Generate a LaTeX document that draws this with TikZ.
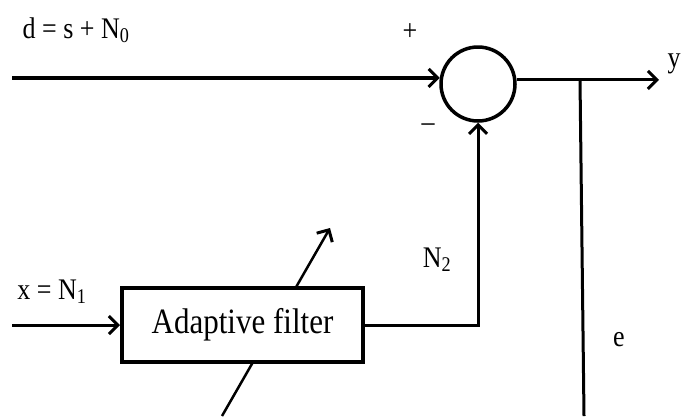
\documentclass[tikz,border=0pt]{standalone}
\usepackage{fontspec}
\setmainfont{Liberation Serif}
\usetikzlibrary{arrows.meta, positioning}

\newcommand{\tall}[1]{\scalebox{1}[1.15]{#1}}

\begin{document}
\begin{tikzpicture}[
x=1pt, y=-1pt,
lbl/.style={inner sep=0pt, font=\fontsize{26}{28}\selectfont},
sumnode/.style={circle, draw, line width=3.5pt, minimum size=74pt, inner sep=0pt},
filterbox/.style={draw, rectangle, fill=white, line width=4pt, minimum width=241pt, minimum height=74pt, font=\fontsize{31}{33}\selectfont},
arrow/.style={-{Straight Barb[length=9pt, width=18pt, line width=3pt]}, line width=3pt},
wire/.style={line width=3pt}
]
\useasboundingbox (0,0) rectangle (684,416);

\node[sumnode] (sum) at (478,84) {};

% adaptation arrow behind the filter box
\coordinate (adaptbot) at (222,416);
\coordinate (adapttop) at (330,228);
\draw[arrow, line width=2.5pt] (adaptbot) -- (adapttop);

\node[filterbox] (filter) at (242.5,325) {\tall{Adaptive filter}};

\coordinate (din) at (12,0 |- sum.171);
\coordinate (xin) at (12,0 |- filter.west);
\coordinate (yout) at (659,0 |- sum.6);
\coordinate (tap) at (580,0 |- sum.6);
\coordinate (ebot) at (584,416);

\draw[arrow, line width=3.5pt] (din) -- (sum.171);
\draw[arrow] (sum.6) -- (yout);
\draw[wire] (tap) -- (ebot);
\draw[arrow] (xin) -- (filter.west);
\draw[arrow] (filter.east) -| (sum.south);

\node[lbl] (dlabel) at (76,30) {\tall{d = s + N\textsubscript{0}}};
\node[lbl] (plus) at (410,32) {\tall{+}};
\node[lbl] (minus) at (428,128) {\tall{–}};
\node[lbl] (ylabel) at (674,64) {\tall{y}};
\node[lbl] (xlabel) at (52,292) {\tall{x = N\textsubscript{1}}};
\node[lbl] (ntwo) at (437,260) {\tall{N\textsubscript{2}}};
\node[lbl] (elabel) at (619,340) {\tall{e}};

\end{tikzpicture}
\end{document}
